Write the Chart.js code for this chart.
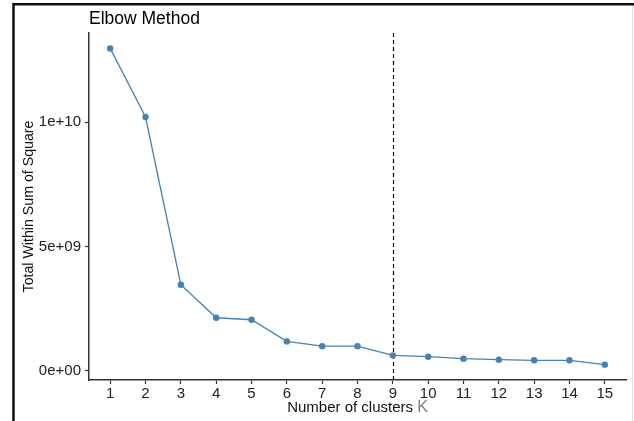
<!DOCTYPE html>
<html>
<head>
<meta charset="utf-8">
<script src="https://cdn.jsdelivr.net/npm/chart.js@4"></script>
<style>
  html, body { margin: 0; padding: 0; background: #fff; }
  #wrap { position: relative; width: 634px; height: 421px; }
</style>
</head>
<body>
<div id="wrap"><canvas id="elbowChart" width="634" height="421"></canvas></div>
<script>
// Datos
const clusterK = [1, 2, 3, 4, 5, 6, 7, 8, 9, 10, 11, 12, 13, 14, 15];
const withinSS = [1.297e10, 1.021e10, 3.47e9, 2.14e9, 2.06e9, 1.19e9, 1.0e9, 1.0e9,
                  6.3e8, 5.75e8, 4.95e8, 4.55e8, 4.3e8, 4.3e8, 2.55e8];
const yTickValues = [0, 5e9, 1e10];
const yTickLabels = ['0e+00', '5e+09', '1e+10'];
const optimalK = 9;

const FONT = '"Liberation Sans", Arial, Helvetica, sans-serif';
const STEEL = '#4682B4';

// Marco, título, línea discontinua y título del eje x (con la K en gris)
const decorPlugin = {
  id: 'decor',
  beforeDraw(chart) {
    const c = chart.ctx;
    c.save();
    c.fillStyle = '#fff';
    c.fillRect(0, 0, chart.width, chart.height);
    c.strokeStyle = '#111';
    c.lineWidth = 2.5;
    c.beginPath();
    c.moveTo(13.5, 421);
    c.lineTo(13.5, 4.2);
    c.lineTo(634, 4.2);
    c.stroke();
    c.strokeStyle = '#ddd';
    c.lineWidth = 1;
    c.beginPath();
    c.moveTo(632.5, 6);
    c.lineTo(632.5, 421);
    c.stroke();
    c.restore();
  },
  beforeDatasetsDraw(chart) {
    const c = chart.ctx;
    const xs = chart.scales.x;
    const area = chart.chartArea;
    const px = Math.round(xs.getPixelForValue(optimalK)) + 0.5;
    c.save();
    c.strokeStyle = '#000';
    c.lineWidth = 1.2;
    c.setLineDash([4, 3]);
    c.beginPath();
    c.moveTo(px, area.top);
    c.lineTo(px, area.bottom);
    c.stroke();
    c.restore();
  },
  afterDraw(chart) {
    const c = chart.ctx;
    const area = chart.chartArea;
    c.save();
    c.textBaseline = 'alphabetic';
    c.fillStyle = '#000';
    c.font = '17.5px ' + FONT;
    c.textAlign = 'left';
    c.fillText('Elbow Method', 89, 24);

    c.font = '15px ' + FONT;
    const main = 'Number of clusters ';
    const k = 'K';
    const w1 = c.measureText(main).width;
    c.font = '16px ' + FONT;
    const w2 = c.measureText(k).width;
    const cx = (area.left + area.right) / 2;
    const x0 = cx - (w1 + w2) / 2;
    c.font = '15px ' + FONT;
    c.fillStyle = '#111';
    c.fillText(main, x0, 412);
    c.font = '16px ' + FONT;
    c.fillStyle = '#808080';
    c.fillText(k, x0 + w1, 412);
    c.restore();
  }
};

new Chart(document.getElementById('elbowChart').getContext('2d'), {
  type: 'line',
  data: {
    datasets: [{
      label: 'Total Within Sum of Square',
      data: clusterK.map((k, i) => ({ x: k, y: withinSS[i] })),
      borderColor: STEEL,
      backgroundColor: STEEL,
      borderWidth: 1.3,
      pointRadius: 3.2,
      pointBorderWidth: 0,
      pointBackgroundColor: STEEL,
      tension: 0,
      fill: false
    }]
  },
  options: {
    responsive: false,
    animation: false,
    devicePixelRatio: 1,
    layout: { padding: { left: 0, top: 33, right: 8, bottom: 0 } },
    plugins: {
      legend: { display: false },
      tooltip: { enabled: false },
      title: { display: false }
    },
    scales: {
      x: {
        type: 'linear',
        min: 0.4,
        max: 15.6,
        afterBuildTicks: (s) => { s.ticks = clusterK.map(v => ({ value: v })); },
        afterFit: (s) => { s.height = 41; },
        border: { display: true, color: '#333', width: 1.5 },
        grid: { drawOnChartArea: false, drawTicks: true, tickLength: 4, color: '#333', tickWidth: 1.2 },
        ticks: {
          color: '#222',
          font: { family: FONT, size: 15 },
          padding: 1,
          maxRotation: 0,
          autoSkip: false
        }
      },
      y: {
        type: 'linear',
        min: -3.62e8,
        max: 1.359e10,
        afterBuildTicks: (s) => { s.ticks = yTickValues.map(v => ({ value: v })); },
        afterFit: (s) => { s.width = 89; },
        border: { display: true, color: '#333', width: 1.5 },
        grid: { drawOnChartArea: false, drawTicks: true, tickLength: 4, color: '#333', tickWidth: 1.2 },
        ticks: {
          color: '#222',
          font: { family: FONT, size: 15 },
          padding: 4,
          callback: (v) => {
            const i = yTickValues.indexOf(v);
            return i >= 0 ? yTickLabels[i] : '';
          }
        },
        title: {
          display: true,
          text: 'Total Within Sum of Square',
          color: '#111',
          font: { family: FONT, size: 14.2 },
          padding: { top: 21, bottom: 0 }
        }
      }
    }
  },
  plugins: [decorPlugin]
});
</script>
</body>
</html>
